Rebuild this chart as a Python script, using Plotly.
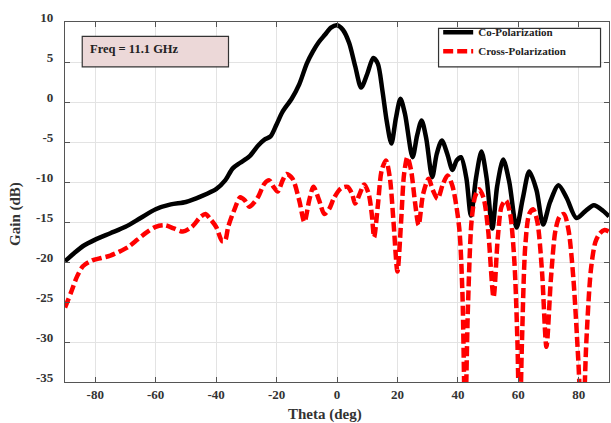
import plotly.graph_objects as go

co_theta = [-90, -87, -84, -80, -75, -70, -65, -60, -55, -50, -45, -40, -37, -34.5, -32, -29, -26, -24, -22, -20,
            -18, -15, -12.5, -10, -8, -6, -4, -2, 0, 2, 4, 6, 8, 10, 12, 13.5, 15, 16.5, 18, 19.5, 21, 22.5, 25,
            26.5, 28, 29.5, 31.5, 33, 34.7, 36.5, 38.2, 39.6, 41, 42.8, 44.3, 46, 47.8, 49.5, 51.4, 53, 55, 57,
            59.4, 61.5, 63.6, 66, 68.2, 70.5, 73.3, 76, 79.2, 82, 85, 88, 90]
co_gain = [-19.9, -18.9, -18.0, -17.2, -16.4, -15.6, -14.5, -13.4, -12.8, -12.5, -11.8, -10.9, -9.8, -8.3, -7.6,
           -6.8, -5.4, -4.7, -4.3, -2.8, -1.2, 0.4, 2.2, 4.8, 6.3, 7.5, 8.4, 9.3, 9.6, 9.0, 7.4, 4.5, 1.8, 3.5,
           5.5, 4.8, 1.5, -2.5, -5.2, -2.0, 0.4, -1.5, -6.9, -4.2, -2.3, -4.5, -9.4, -6.5, -4.8, -6.5, -8.5,
           -7.3, -6.9, -9.5, -14.2, -9.5, -6.2, -9.5, -15.8, -10.5, -7.2, -10.0, -15.7, -12.0, -8.7, -11.0,
           -15.3, -12.5, -10.4, -12.0, -14.5, -13.7, -12.9, -13.6, -14.3]

cx_theta = [-90, -88, -86, -84, -81, -78, -75, -72, -69, -66, -63, -60, -57, -54, -51, -48, -45, -43.5, -42, -40,
            -38, -37, -36, -34, -32, -30.5, -29, -27.5, -26, -24, -22.4, -21, -19.6, -18, -16.7, -14.7, -12.5,
            -10.8, -9.2, -7.8, -5.9, -4.2, -2.5, -1, 1.3, 3.5, 5, 6, 7.5, 9, 10.5, 11.5, 12.3, 13.5, 14.8, 16.2,
            17.5, 18.7, 20, 21.2, 22.2, 23.3, 24.5, 25.8, 27, 28.5, 30.3, 31.7, 33.3, 35, 36.6, 38.2, 40.4, 41.5,
            42.4, 43.3, 44.5, 45.7, 47, 48.5, 50, 51.8, 53.2, 54.5, 55.9, 57.3, 58.7, 59.7, 60.4, 61.2, 62.3,
            63.6, 64.9, 66.3, 67.8, 69.3, 70.8, 72.3, 73.7, 75.1, 76.6, 78.2, 79.8, 81.2, 82.5, 84, 85.5, 87,
            88.5, 90]
cx_gain = [-25.7, -23.8, -21.8, -20.5, -19.8, -19.5, -19.2, -18.7, -18.1, -17.2, -16.3, -15.6, -15.4, -15.8,
           -16.2, -15.6, -14.3, -14.0, -14.6, -15.6, -17.4, -17.3, -15.6, -13.5, -11.9, -12.3, -13.1, -12.6,
           -11.8, -10.2, -9.8, -10.6, -11.2, -9.8, -9.0, -9.6, -12.3, -15.0, -12.3, -10.6, -12.3, -14.0, -13.3,
           -12.0, -10.8, -10.6, -11.5, -12.7, -11.5, -10.3, -11.5, -14.0, -16.9, -13.0, -8.5, -7.3, -9.5, -15.0,
           -21.2, -15.0, -9.0, -6.9, -8.5, -12.5, -15.4, -11.5, -9.6, -11.0, -12.1, -10.3, -9.2, -10.5, -15.6,
           -23.9, -40.0, -26.0, -15.0, -11.8, -10.9, -12.0, -16.0, -24.4, -17.0, -13.0, -12.3, -14.0, -20.0,
           -30.0, -42.0, -30.0, -18.0, -14.0, -13.4, -15.0, -21.0, -30.6, -22.0, -16.0, -14.3, -14.0, -16.0,
           -22.0, -32.0, -42.0, -30.0, -21.0, -17.5, -16.4, -16.0, -16.2]

x_ticks = [-80, -60, -40, -20, 0, 20, 40, 60, 80]
y_ticks = [10, 5, 0, -5, -10, -15, -20, -25, -30, -35]

FONT = "Liberation Serif"

fig = go.Figure()
fig.add_trace(go.Scatter(x=co_theta, y=co_gain, mode="lines", name="<b>Co-Polarization</b>",
                         line=dict(color="black", width=4.5, shape="spline", smoothing=0.8)))
fig.add_trace(go.Scatter(x=cx_theta, y=cx_gain, mode="lines", name="<b>Cross-Polarization</b>",
                         line=dict(color="#ff0000", width=4.5, dash="10px,4px", shape="spline", smoothing=0.8)))

axis_common = dict(showgrid=True, gridcolor="#e3e3e3", gridwidth=1.3, showline=True, linecolor="#555",
                   linewidth=1.3, mirror="ticks", ticks="inside", ticklen=5, tickcolor="#555", zeroline=False,
                   tickfont=dict(family=FONT, size=13, color="#333", weight="bold"))

fig.update_xaxes(range=[-90, 90], tickvals=x_ticks, ticktext=[str(v) for v in x_ticks], **axis_common)
fig.update_yaxes(range=[-35, 10], tickvals=y_ticks, ticktext=[str(v) for v in y_ticks], ticklabelshift=-5,
                 ticklabelstandoff=8, **axis_common)

# axis titles
fig.add_annotation(x=-3.9, y=-0.09, xref="x", yref="paper", text="<b>Theta (deg)</b>", showarrow=False,
                   xanchor="center", yanchor="middle", font=dict(family=FONT, size=15, color="#333"))
fig.add_annotation(x=-0.092, y=-14.0, xref="paper", yref="y", text="<b>Gain (dB)</b>", showarrow=False,
                   textangle=-90, xanchor="center", yanchor="middle", font=dict(family=FONT, size=15, color="#333"))

# frequency box
fig.add_shape(type="rect", xref="x", yref="y", x0=-84.3, x1=-35.9, y0=4.4, y1=8.2,
              fillcolor="#ecd8d8", line=dict(color="#333", width=1.2), layer="above")
fig.add_annotation(x=-82.5, y=6.6, xref="x", yref="y", text="<b>Freq = 11.1 GHz</b>", showarrow=False,
                   xanchor="left", yanchor="middle", font=dict(family=FONT, size=12.5, color="#222"))

# legend box
fig.add_shape(type="rect", xref="x", yref="y", x0=33.6, x1=87.2, y0=4.4, y1=9.2,
              fillcolor="white", line=dict(color="#333", width=1.2), layer="above")

fig.update_layout(
    width=611, height=423,
    margin=dict(l=65, r=2, t=22, b=41),
    plot_bgcolor="white", paper_bgcolor="white",
    legend=dict(x=0.686, y=1.012, xanchor="left", yanchor="top", bgcolor="rgba(0,0,0,0)",
                borderwidth=0, font=dict(family=FONT, size=11, color="#222"),
                tracegroupgap=0, itemwidth=30),
    showlegend=True,
)

fig.write_html("out.html")
